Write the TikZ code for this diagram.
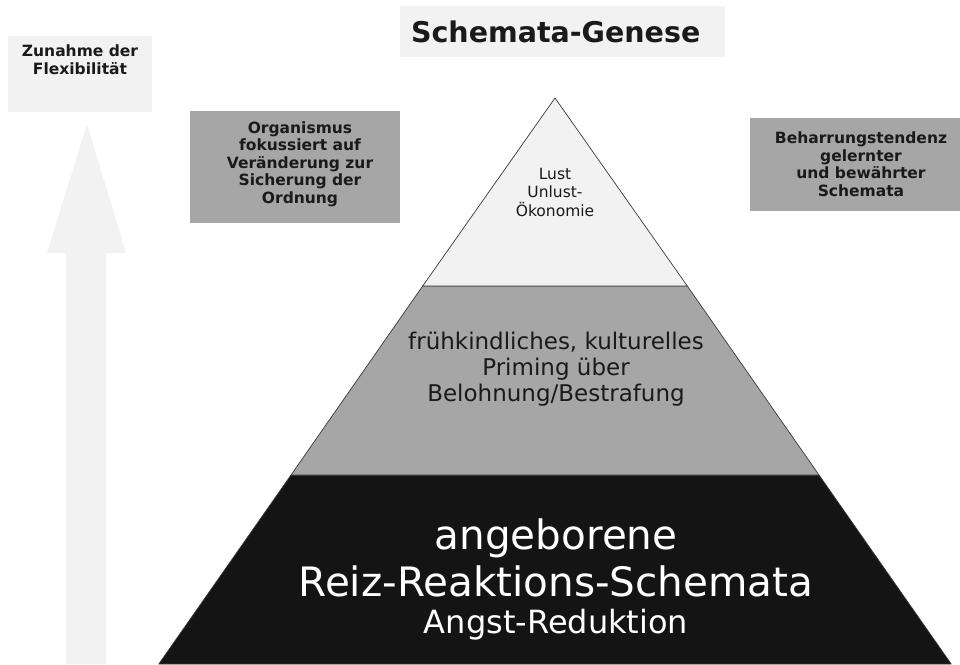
\documentclass[tikz,border=0pt]{standalone}
\usepackage{fontspec}
\setmainfont{DejaVu Sans}
\usetikzlibrary{calc}

\definecolor{paleGray}{HTML}{F2F2F2}
\definecolor{midGray}{HTML}{A6A6A6}
\definecolor{nearBlack}{HTML}{141414}
\definecolor{edgeGray}{HTML}{3A3A3A}
\definecolor{textDark}{HTML}{1A1A1A}

\tikzset{
  lightbox/.style={fill=paleGray, draw=none, rectangle, inner sep=0pt},
  greybox/.style={fill=midGray, draw=none, rectangle, inner sep=0pt},
  boldlabel/.style={align=center, text=textDark, inner sep=0pt,
    font=\bfseries\fontsize{15.5}{17.5}\selectfont},
  layer/.style={draw=edgeGray, line width=0.7pt, line join=round},
}

\begin{document}
\begin{tikzpicture}[x=1pt, y=-1pt]
\useasboundingbox (0,0) rectangle (960,664);

% title
\node[lightbox, minimum width=325pt, minimum height=51pt, anchor=north west] (titlebox) at (400,6) {};
\node[text=textDark, inner sep=0pt, font=\bfseries\fontsize{28.5}{32}\selectfont] (title) at ($(titlebox.center)+(-7,0)$) {Schemata-Genese};

% flexibility arrow with its caption box
\node[lightbox, minimum width=144pt, minimum height=76pt, anchor=north west] (flexbox) at (8,36) {};
\node[boldlabel, anchor=north] (flex) at (80,45) {Zunahme der\\Flexibilität};
\fill[paleGray] (87,124) -- (126,253) -- (106,253) -- (106,664) -- (66,664) -- (66,253) -- (47,253) -- cycle;

% side boxes
\node[greybox, minimum width=210pt, minimum height=112pt, anchor=north west] (orgbox) at (190,111) {};
\node[boldlabel] (org) at (300,164) {Organismus\\fokussiert auf\\Veränderung zur\\Sicherung der\\Ordnung};
\node[greybox, minimum width=210pt, minimum height=93pt, anchor=north west] (persbox) at (750,118) {};
\node[boldlabel] (pers) at (861,164) {Beharrungstendenz\\gelernter\\und bewährter\\Schemata};

% pyramid layers
\coordinate (apex) at (555,98);
\coordinate (l1) at (422.7,286); \coordinate (r1) at (687.3,286);
\coordinate (l2) at (291,475);   \coordinate (r2) at (819,475);
\coordinate (l3) at (158.8,664); \coordinate (r3) at (951.2,664);
\draw[layer, fill=nearBlack] (l2) -- (r2) -- (r3) -- (l3) -- cycle;
\draw[layer, fill=midGray] (l1) -- (r1) -- (r2) -- (l2) -- cycle;
\draw[layer, fill=paleGray] (apex) -- (r1) -- (l1) -- cycle;

% layer texts
\node[align=center, text=textDark, inner sep=0pt, font=\fontsize{15.5}{18.5}\selectfont] (top) at (555,192) {Lust\\Unlust-\\Ökonomie};
\node[align=center, text=textDark, inner sep=0pt, font=\fontsize{23}{26}\selectfont] (mid) at (556,369) {frühkindliches, kulturelles\\Priming über\\Belohnung/Bestrafung};
\node[align=center, text=white, inner sep=0pt, font=\fontsize{40.5}{47}\selectfont] (base) at (556,558) {angeborene\\Reiz-Reaktions-Schemata};
\node[text=white, inner sep=0pt, anchor=base, font=\fontsize{32}{36}\selectfont] (fear) at (556,633) {Angst-Reduktion};
\end{tikzpicture}
\end{document}
